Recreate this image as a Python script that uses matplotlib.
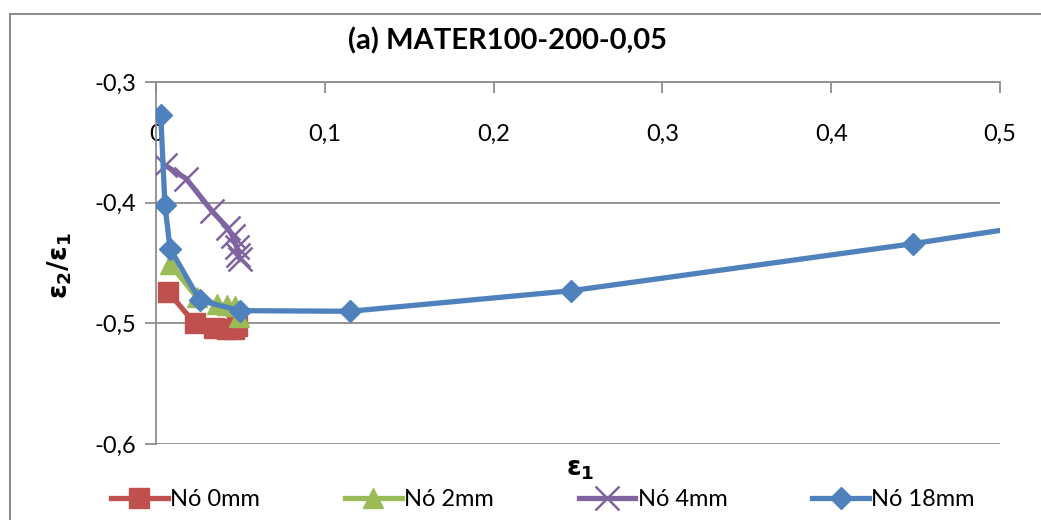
import matplotlib
matplotlib.use("Agg")
import matplotlib.pyplot as plt
from matplotlib.patches import Rectangle
from matplotlib.ticker import FuncFormatter

plt.rcParams['font.family'] = ['Lato', 'DejaVu Sans']

# Strain data for each node (eps1, eps2/eps1)
no0_x = [0.0072, 0.0230, 0.0345, 0.0420, 0.0460, 0.0480]
no0_y = [-0.474, -0.500, -0.504, -0.505, -0.505, -0.502]

no2_x = [0.0083, 0.0240, 0.0360, 0.0420, 0.0470, 0.0490]
no2_y = [-0.451, -0.478, -0.484, -0.485, -0.486, -0.495]

no4_x = [0.0053, 0.0178, 0.0332, 0.0425, 0.0455, 0.0478, 0.0488, 0.0498]
no4_y = [-0.369, -0.380, -0.407, -0.421, -0.428, -0.437, -0.443, -0.447]

no18_x = [0.0028, 0.0053, 0.0083, 0.0260, 0.0498, 0.1149, 0.2458, 0.4484, 0.6500]
no18_y = [-0.327, -0.402, -0.438, -0.481, -0.4895, -0.490, -0.473, -0.434, -0.391]

series = [
    ("Nó 0mm", no0_x, no0_y, "#C0504D", "s", 14),
    ("Nó 2mm", no2_x, no2_y, "#9BBB59", "^", 14),
    ("Nó 4mm", no4_x, no4_y, "#8064A2", "x", 14),
    ("Nó 18mm", no18_x, no18_y, "#4F81BD", "D", 11),
]

xticks = [0, 0.1, 0.2, 0.3, 0.4, 0.5]
yticks = [-0.3, -0.4, -0.5, -0.6]

fig = plt.figure(figsize=(10.41, 5.2), dpi=100)
ax = fig.add_axes([156/1041, 1-444/520, (1000-156)/1041, (444-82)/520])

grid_c = "#8C8C8C"
for yv in yticks:
    ax.axhline(yv, color=grid_c, lw=1.3, zorder=1)

for name, xs, ys, c, m, ms in series:
    kw = dict(color=c, lw=3.8, marker=m, markersize=ms, label=name, zorder=3)
    if m == "x":
        kw.update(markeredgewidth=1.8, markersize=17)
    else:
        kw.update(markeredgecolor=c)
    ax.plot(xs, ys, **kw)

ax.set_xlim(0, 0.5)
ax.set_ylim(-0.6, -0.3)

for s in ["right", "bottom"]:
    ax.spines[s].set_visible(False)
ax.spines["left"].set_color(grid_c)
ax.spines["left"].set_linewidth(1.3)
ax.spines["top"].set_color(grid_c)
ax.spines["top"].set_linewidth(1.3)
ax.spines["left"].set_zorder(2)

ax.xaxis.tick_top()
ax.set_xticks(xticks)
ax.tick_params(axis="x", direction="in", length=8, width=1.3, color=grid_c,
               pad=-38, labelsize=17, labeltop=True, labelbottom=False)
for lbl in ax.get_xticklabels():
    lbl.set_verticalalignment("center")
ax.set_yticks(yticks)
ax.tick_params(axis="y", direction="out", length=8, width=1.3, color=grid_c,
               labelsize=17, pad=6)

comma = FuncFormatter(lambda v, p: (f"{v:.1f}".rstrip("0").rstrip(".") if v != 0 else "0").replace(".", ","))
ax.xaxis.set_major_formatter(comma)
ax.yaxis.set_major_formatter(comma)

fig.text(508/1041, 1-41/520, "(a) MATER100-200-0,05", ha="center", va="center",
         fontsize=21, fontweight="bold")
fig.text(580/1041, 1-470/520, r"$\mathbf{\varepsilon_1}$", ha="center", va="center",
         fontsize=19)
fig.text(60/1041, 1-266/520, r"$\mathbf{\varepsilon_2/\varepsilon_1}$", ha="center",
         va="center", rotation=90, fontsize=19)

fig.legend(loc="center", bbox_to_anchor=(543/1041, 1-500/520), ncol=4,
           frameon=False, fontsize=17, handlelength=2.4, handletextpad=0.1,
           columnspacing=3.6, borderaxespad=0)

fig.patches.append(Rectangle((10/1041, -0.1), 1.2, 1.1 - 14/520,
                             transform=fig.transFigure, fill=False,
                             edgecolor="#8C8C8C", lw=1.5, zorder=0))

fig.savefig("out.png", dpi=100)
